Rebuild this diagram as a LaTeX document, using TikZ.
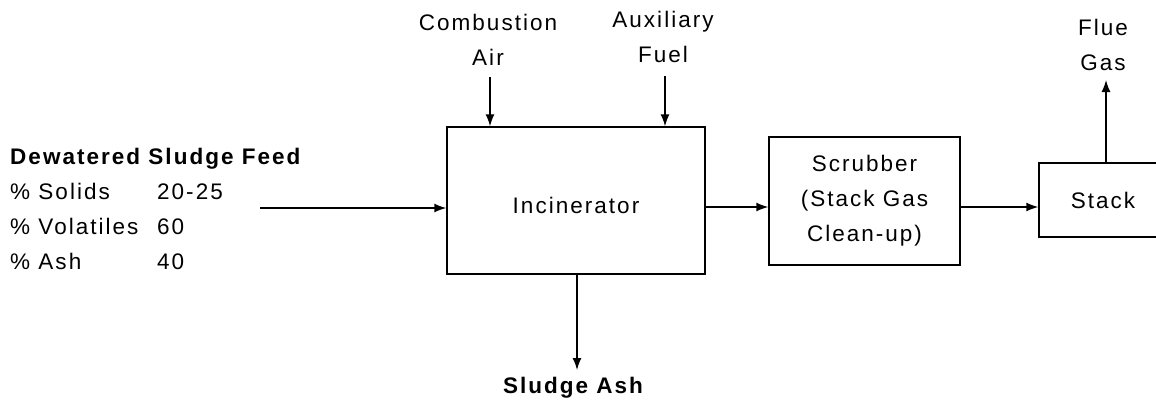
\documentclass[tikz,border=0pt]{standalone}
\usepackage{fontspec}
\setmainfont{Liberation Sans}[LetterSpace=9]
\usepackage{tikz}
\usetikzlibrary{arrows.meta,positioning}
\tikzset{
  ar/.style={-{Latex[length=12pt,width=9pt]},line width=1.4pt},
  box/.style={draw,line width=1.4pt,align=center,inner sep=0pt},
  lbl/.style={align=center,inner sep=0pt}
}

\begin{document}
\begin{tikzpicture}[x=1pt,y=-1pt,font=\fontsize{22.5}{35}\selectfont]
\useasboundingbox (0,0) rectangle (1156,404);
\node[box,minimum width=258pt,minimum height=147pt] (inc) at (576,200.5) {};
\node[lbl] at (576,205) {Incinerator};
\node[box,minimum width=191pt,minimum height=128pt] (scrub) at (864.5,201) {Scrubber\\(Stack Gas\\Clean-up)};
\node[box,minimum width=128pt,minimum height=74pt] (stack) at (1103,200) {Stack};
% feed data
\node[lbl,align=left,anchor=west] (feed) at (10,208.5)
  {\textbf{Dewatered Sludge Feed}\\
   \makebox[147pt][l]{\% Solids}20-25\\
   \makebox[147pt][l]{\% Volatiles}60\\
   \makebox[147pt][l]{\% Ash}40};
\node[lbl] (air) at (488,40) {Combustion\\Air};
\node[lbl] (fuel) at (663,37) {Auxiliary\\Fuel};
\node[lbl] (flue) at (1103,45) {Flue\\Gas};
\node[lbl,font=\fontsize{22.5}{35}\selectfont\bfseries] (ash) at (573,388) {Sludge Ash};
\coordinate (feedin) at (260,208);
\coordinate (airin) at (490,77);
\coordinate (fuelin) at (665,76);
\coordinate (ashout) at (577,370);
\coordinate (flueout) at (1106,80);
% streams
\draw[ar] (feedin) -- (inc.west |- feedin);
\draw[ar] (airin) -- (inc.north -| airin);
\draw[ar] (fuelin) -- (inc.north -| fuelin);
\draw[ar] (inc.south -| ashout) -- (ashout);
\draw[ar] (inc.east |- 0,207) -- (scrub.west |- 0,207);
\draw[ar] (scrub.east |- 0,207) -- (stack.west |- 0,207);
\draw[ar] (stack.north -| flueout) -- (flueout);
\end{tikzpicture}
\end{document}
